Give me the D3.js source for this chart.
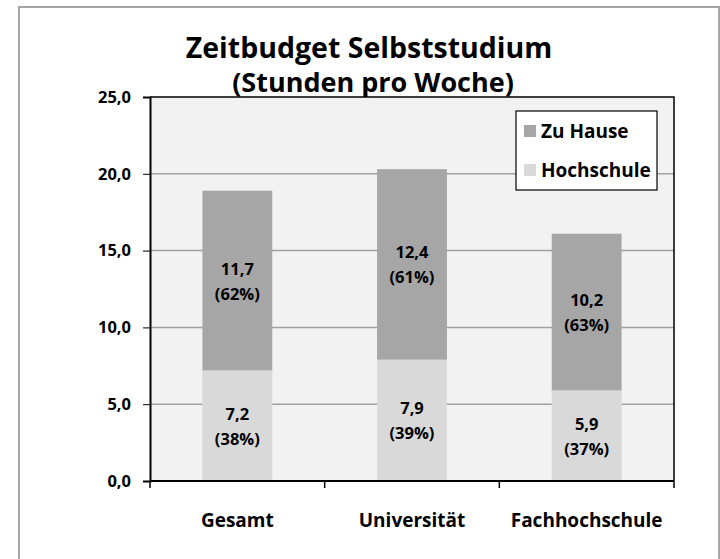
<!DOCTYPE html>
<html lang="de">
<head>
<meta charset="UTF-8">
<title>Zeitbudget Selbststudium</title>
<script src="https://d3js.org/d3.v7.min.js"></script>
<style>
  body { margin: 0; background: #fff; }
  svg text { font-family: "Open Sans", Lato, sans-serif; font-weight: bold; fill: #000; }
</style>
</head>
<body>
<svg width="720" height="559"></svg>
<script>
const categories = ["Gesamt", "Universität", "Fachhochschule"];
const hochschule = [7.2, 7.9, 5.9];
const zuHause = [11.7, 12.4, 10.2];
const shareHochschule = [38, 39, 37];
const shareZuHause = [62, 61, 63];
const yTicks = [0, 5, 10, 15, 20, 25];
const seriesNames = ["Zu Hause", "Hochschule"];
const colors = { "Zu Hause": "#a6a6a6", "Hochschule": "#d9d9d9" };

const margin = {top: 97, right: 46, bottom: 78, left: 150};
const width = 720 - margin.left - margin.right;
const height = 559 - margin.top - margin.bottom;

const svg = d3.select("svg");

// outer frame
svg.append("rect")
  .attr("x", 19).attr("y", 7)
  .attr("width", 700).attr("height", 600)
  .attr("fill", "#fff")
  .attr("stroke", "#a6a6a6")
  .attr("stroke-width", 2);

// title
svg.append("text")
  .attr("x", 369).attr("y", 58)
  .attr("text-anchor", "middle")
  .style("font-size", "28.5px")
  .text("Zeitbudget Selbststudium");
svg.append("text")
  .attr("x", 373).attr("y", 92)
  .attr("text-anchor", "middle")
  .style("font-size", "27px")
  .text("(Stunden pro Woche)");

const g = svg.append("g")
  .attr("transform", "translate(" + margin.left + "," + margin.top + ")");

const x = d3.scaleBand()
  .domain(categories)
  .range([0, width])
  .paddingInner(0.6)
  .paddingOuter(0.3);

const y = d3.scaleLinear()
  .domain([0, 25])
  .range([height, 0]);

// plot background
g.append("rect")
  .attr("width", width).attr("height", height)
  .attr("fill", "#f2f2f2");

// gridlines
g.selectAll(".grid")
  .data(yTicks.filter(d => d > 0 && d < 25))
  .enter().append("line")
  .attr("x1", 0).attr("x2", width)
  .attr("y1", d => y(d)).attr("y2", d => y(d))
  .attr("stroke", "#a0a0a0")
  .attr("stroke-width", 1.5);

// stacked bars
const rows = categories.map((c, i) => ({
  cat: c, Hochschule: hochschule[i], "Zu Hause": zuHause[i],
  pH: shareHochschule[i], pZ: shareZuHause[i]
}));
const stack = d3.stack().keys(["Hochschule", "Zu Hause"])(rows);

stack.forEach(layer => {
  g.selectAll(".bar-" + layer.key.replace(" ", ""))
    .data(layer)
    .enter().append("rect")
    .attr("x", d => x(d.data.cat))
    .attr("y", d => y(d[1]))
    .attr("width", x.bandwidth())
    .attr("height", d => y(d[0]) - y(d[1]))
    .attr("fill", colors[layer.key]);

  const lbl = g.selectAll(".lbl-" + layer.key.replace(" ", ""))
    .data(layer)
    .enter().append("text")
    .attr("text-anchor", "middle")
    .style("font-size", "16.5px");
  lbl.append("tspan")
    .attr("x", d => x(d.data.cat) + x.bandwidth() / 2)
    .attr("y", d => (y(d[0]) + y(d[1])) / 2 - 6)
    .text(d => d3.format(".1f")(d[1] - d[0]).replace(".", ","));
  lbl.append("tspan")
    .attr("x", d => x(d.data.cat) + x.bandwidth() / 2)
    .attr("y", d => (y(d[0]) + y(d[1])) / 2 + 19)
    .text(d => "(" + (layer.key === "Hochschule" ? d.data.pH : d.data.pZ) + "%)");
});

// plot border top/right
g.append("path")
  .attr("d", "M0,0H" + width + "V" + height)
  .attr("fill", "none")
  .attr("stroke", "#000")
  .attr("stroke-width", 1.5);

// y axis
const yAxis = g.append("g")
  .call(d3.axisLeft(y).tickValues(yTicks).tickSize(7).tickPadding(12)
    .tickFormat(d => d3.format(".1f")(d).replace(".", ",")));
yAxis.select(".domain").attr("stroke-width", 2);
yAxis.selectAll("text").style("font-size", "16.5px");

// x axis
const xEdges = d3.scaleLinear().domain([0, categories.length]).range([0, width]);
const xAxis = g.append("g")
  .attr("transform", "translate(0," + height + ")");
xAxis.append("line")
  .attr("x1", 0).attr("x2", width)
  .attr("stroke", "#000").attr("stroke-width", 2);
xAxis.selectAll(".xtick")
  .data(d3.range(categories.length + 1))
  .enter().append("line")
  .attr("x1", d => xEdges(d)).attr("x2", d => xEdges(d))
  .attr("y1", 0).attr("y2", 7)
  .attr("stroke", "#000").attr("stroke-width", 1.5);
xAxis.selectAll(".xlabel")
  .data(categories)
  .enter().append("text")
  .attr("x", d => x(d) + x.bandwidth() / 2)
  .attr("y", 46)
  .attr("text-anchor", "middle")
  .style("font-size", "19px")
  .text(d => d);

// legend
const legend = g.append("g").attr("transform", "translate(366,14)");
legend.append("rect")
  .attr("width", 141).attr("height", 79)
  .attr("fill", "#fff")
  .attr("stroke", "#000")
  .attr("stroke-width", 1.2);
const items = legend.selectAll(".item")
  .data(seriesNames)
  .enter().append("g")
  .attr("transform", (d, i) => "translate(8," + (14 + i * 39) + ")");
items.append("rect")
  .attr("width", 12).attr("height", 12)
  .attr("fill", d => colors[d]);
items.append("text")
  .attr("x", 17).attr("y", 13)
  .style("font-size", "19px")
  .text(d => d);
</script>
</body>
</html>
